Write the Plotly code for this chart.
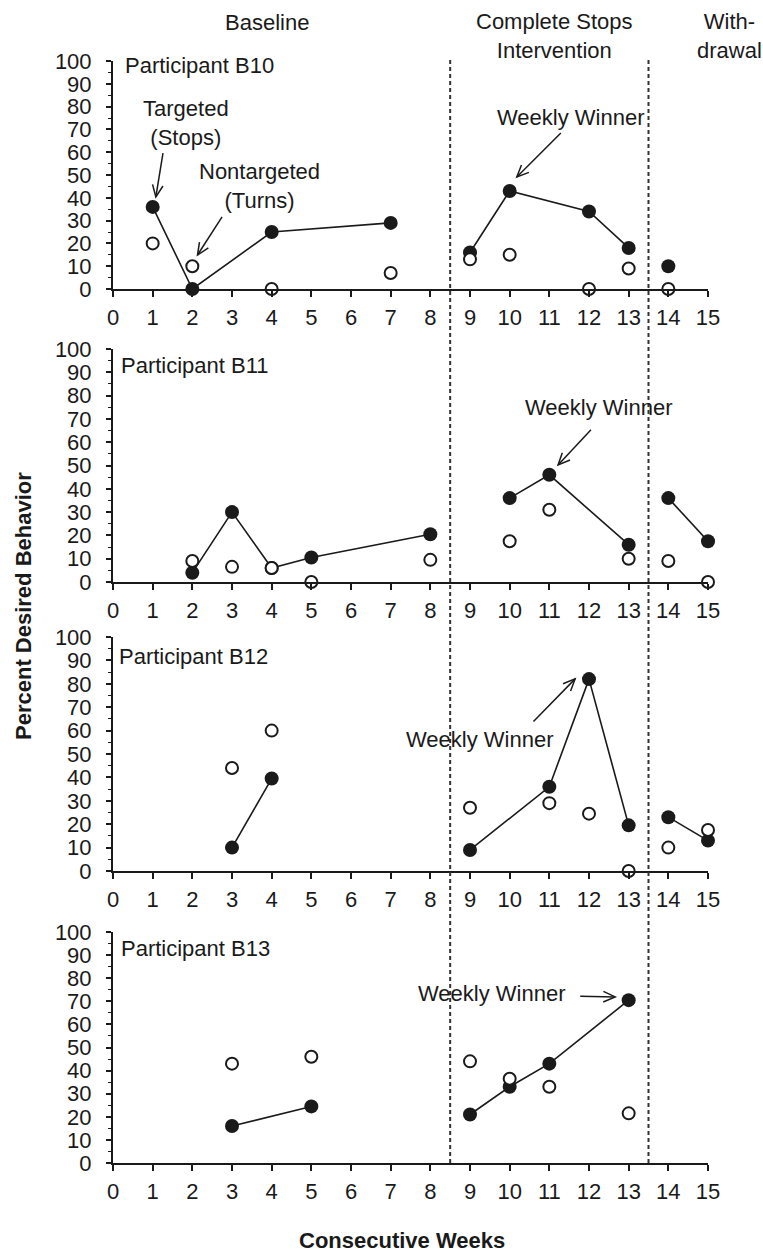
import math
import plotly.graph_objects as go

# ---------------- data ----------------
participants = ["Participant B10", "Participant B11", "Participant B12", "Participant B13"]

b10_weeks = [1, 2, 4, 7, 9, 10, 12, 13, 14]
b10_targeted = [36, 0, 25, 29, 16, 43, 34, 18, 10]
b10_nontargeted = [20, 10, 0, 7, 13, 15, 0, 9, 0]

b11_weeks = [2, 3, 4, 5, 8, 10, 11, 13, 14, 15]
b11_targeted = [4, 30, 6, 10.5, 20.5, 36, 46, 16, 36, 17.5]
b11_nontargeted = [9, 6.5, 6, 0, 9.5, 17.5, 31, 10, 9, 0]

b12_weeks = [3, 4, 9, 11, 12, 13, 14, 15]
b12_targeted = [10, 39.5, 9, 36, 82, 19.5, 23, 13]
b12_nontargeted = [44, 60, 27, 29, 24.5, 0, 10, 17.5]

b13_weeks = [3, 5, 9, 10, 11, 13]
b13_targeted = [16, 24.5, 21, 33, 43, 70.5]
b13_nontargeted = [43, 46, 44, 36.5, 33, 21.5]

phase_changes = [8.5, 13.5]
phase_labels = ["Baseline", "Complete Stops<br>Intervention", "With-<br>drawal"]
x_ticks = list(range(0, 16))
y_ticks = list(range(0, 101, 10))

data = [
    (b10_weeks, b10_targeted, b10_nontargeted),
    (b11_weeks, b11_targeted, b11_nontargeted),
    (b12_weeks, b12_targeted, b12_nontargeted),
    (b13_weeks, b13_targeted, b13_nontargeted),
]

# ---------------- layout geometry (pixels) ----------------
W, H = 763, 1258
X0, X1 = 113, 708                     # x = 0 .. 15
PANELS = [(61, 289), (349, 582), (637, 871), (932, 1163)]  # (y=100, y=0) px

FONT = "Liberation Sans, Arial, Helvetica, sans-serif"
NARROW = "Liberation Sans Narrow, Arial Narrow, Liberation Sans, Arial, sans-serif"
INK = "#1a1a1a"


def split_phases(xs, ys):
    """Insert gaps between phases so lines only connect within a phase."""
    ox, oy = [], []
    prev = None
    for x, y in zip(xs, ys):
        ph = sum(x > c for c in phase_changes)
        if prev is not None and ph != prev:
            ox.append(None)
            oy.append(None)
        ox.append(x)
        oy.append(y)
        prev = ph
    return ox, oy


fig = go.Figure()

for i, (wk, tg, nt) in enumerate(data):
    sfx = "" if i == 0 else str(i + 1)
    lx, ly = split_phases(wk, tg)
    fig.add_trace(go.Scatter(
        x=lx, y=ly, mode="lines+markers", xaxis="x" + sfx, yaxis="y" + sfx,
        line=dict(color=INK, width=1.6),
        marker=dict(symbol="circle", size=14, color=INK),
        cliponaxis=False, showlegend=False, hoverinfo="skip"))
    fig.add_trace(go.Scatter(
        x=wk, y=nt, mode="markers", xaxis="x" + sfx, yaxis="y" + sfx,
        marker=dict(symbol="circle", size=12, color="white",
                    line=dict(color=INK, width=2)),
        cliponaxis=False, showlegend=False, hoverinfo="skip"))

layout = dict(
    width=W, height=H, margin=dict(l=0, r=0, t=0, b=0, autoexpand=False),
    paper_bgcolor="white", plot_bgcolor="white",
    font=dict(family=FONT, size=22, color=INK),
    showlegend=False,
)

xdom = [X0 / W, X1 / W]
for i, (ptop, pbot) in enumerate(PANELS):
    sfx = "" if i == 0 else str(i + 1)
    ydom = [1 - pbot / H, 1 - ptop / H]
    layout["xaxis" + sfx] = dict(
        domain=xdom, range=[0, 15], anchor="y" + sfx, automargin=False,
        tickmode="array", tickvals=x_ticks, ticktext=[str(t) for t in x_ticks],
        ticks="outside", ticklen=6, tickwidth=1.5, tickcolor=INK,
        showline=True, linecolor=INK, linewidth=2,
        showgrid=False, zeroline=False, ticklabelstandoff=2,
        tickfont=dict(family=FONT, size=22, color=INK), fixedrange=True)
    layout["yaxis" + sfx] = dict(
        domain=ydom, range=[0, 100], anchor="x" + sfx, automargin=False,
        tickmode="array", tickvals=y_ticks, ticktext=[str(t) for t in y_ticks],
        ticks="outside", ticklen=5, tickwidth=1.5, tickcolor=INK,
        minor=dict(dtick=5, ticks="outside", ticklen=3, tickwidth=1.2, tickcolor=INK),
        showline=True, linecolor=INK, linewidth=2,
        showgrid=False, zeroline=False, ticklabelstandoff=10,
        tickfont=dict(family=NARROW, size=22, color=INK), fixedrange=True)

fig.update_layout(**layout)

# phase-change dashed lines across all panels
for c in phase_changes:
    fig.add_shape(type="line", xref="x", yref="paper",
                  x0=c, x1=c, y0=1 - PANELS[-1][1] / H, y1=1 - 57 / H,
                  line=dict(color="#333333", width=2, dash="4px,3px"))

ann = []
# phase labels (top)
for txt, px_x, px_y in zip(phase_labels, [267, 554, 729], [22, 36, 36]):
    ann.append(dict(text=txt, x=px_x / W, y=1 - px_y / H, xref="paper", yref="paper",
                    showarrow=False, xanchor="center", yanchor="middle",
                    font=dict(size=22)))

# participant labels
part_pos = [(0.25, 98), (0.16, 93), (0.1, 91.5), (0.14, 93)]
for i, (name, (px, py)) in enumerate(zip(participants, part_pos)):
    sfx = "" if i == 0 else str(i + 1)
    ann.append(dict(text=name, x=px, y=py, xref="x" + sfx, yref="y" + sfx,
                    showarrow=False, xanchor="left", yanchor="middle",
                    font=dict(size=22)))

# callout texts: (panel, text, x, y)
callouts = [
    (0, "Targeted<br>(Stops)", 1.84, 72.6),
    (0, "Nontargeted<br>(Turns)", 3.7, 45),
    (0, "Weekly Winner", 11.54, 75.4),
    (1, "Weekly Winner", 12.24, 75),
    (2, "Weekly Winner", 9.25, 56),
    (3, "Weekly Winner", 9.56, 73.2),
]
for p, txt, x, y in callouts:
    sfx = "" if p == 0 else str(p + 1)
    ann.append(dict(text=txt, x=x, y=y, xref="x" + sfx, yref="y" + sfx,
                    showarrow=False, xanchor="center", yanchor="middle",
                    font=dict(size=22)))

# arrows with open "V" heads: (panel, tail x, tail y, head x, head y)
arrows = [
    (0, 1.26, 59.6, 1.08, 40.4),
    (0, 2.75, 31.6, 2.13, 14.9),
    (0, 11.29, 68.4, 10.18, 49.1),
    (1, 12.05, 65.3, 11.22, 50.2),
    (2, 10.6, 63.9, 11.65, 82.1),
    (3, 11.78, 72.2, 12.66, 71.9),
]
sx = (X1 - X0) / 15.0
for p, tx, ty, hx, hy in arrows:
    sfx = "" if p == 0 else str(p + 1)
    sy = (PANELS[p][1] - PANELS[p][0]) / 100.0
    dx, dy = (tx - hx) * sx, (ty - hy) * sy
    L = math.hypot(dx, dy)
    ux, uy = dx / L, dy / L
    hl, ang = 13.0, math.radians(24)
    wings = []
    for s in (1, -1):
        c, sn = math.cos(s * ang), math.sin(s * ang)
        wx, wy = ux * c - uy * sn, ux * sn + uy * c
        wings.append((hx + wx * hl / sx, hy + wy * hl / sy))
    fig.add_shape(type="line", xref="x" + sfx, yref="y" + sfx,
                  x0=tx, y0=ty, x1=hx, y1=hy, line=dict(color=INK, width=1.5))
    path = "M {:.4f},{:.4f} L {:.4f},{:.4f} L {:.4f},{:.4f}".format(
        wings[0][0], wings[0][1], hx, hy, wings[1][0], wings[1][1])
    fig.add_shape(type="path", xref="x" + sfx, yref="y" + sfx, path=path,
                  line=dict(color=INK, width=1.5))

# axis titles
ann.append(dict(text="<b>Percent Desired Behavior</b>", x=23 / W, y=1 - 606 / H,
                xref="paper", yref="paper", showarrow=False, textangle=-90,
                xanchor="center", yanchor="middle", font=dict(size=22)))
ann.append(dict(text="<b>Consecutive Weeks</b>", x=402 / W, y=1 - 1240 / H,
                xref="paper", yref="paper", showarrow=False,
                xanchor="center", yanchor="middle", font=dict(size=22)))

fig.update_layout(annotations=ann)
fig.write_html("out.html")
